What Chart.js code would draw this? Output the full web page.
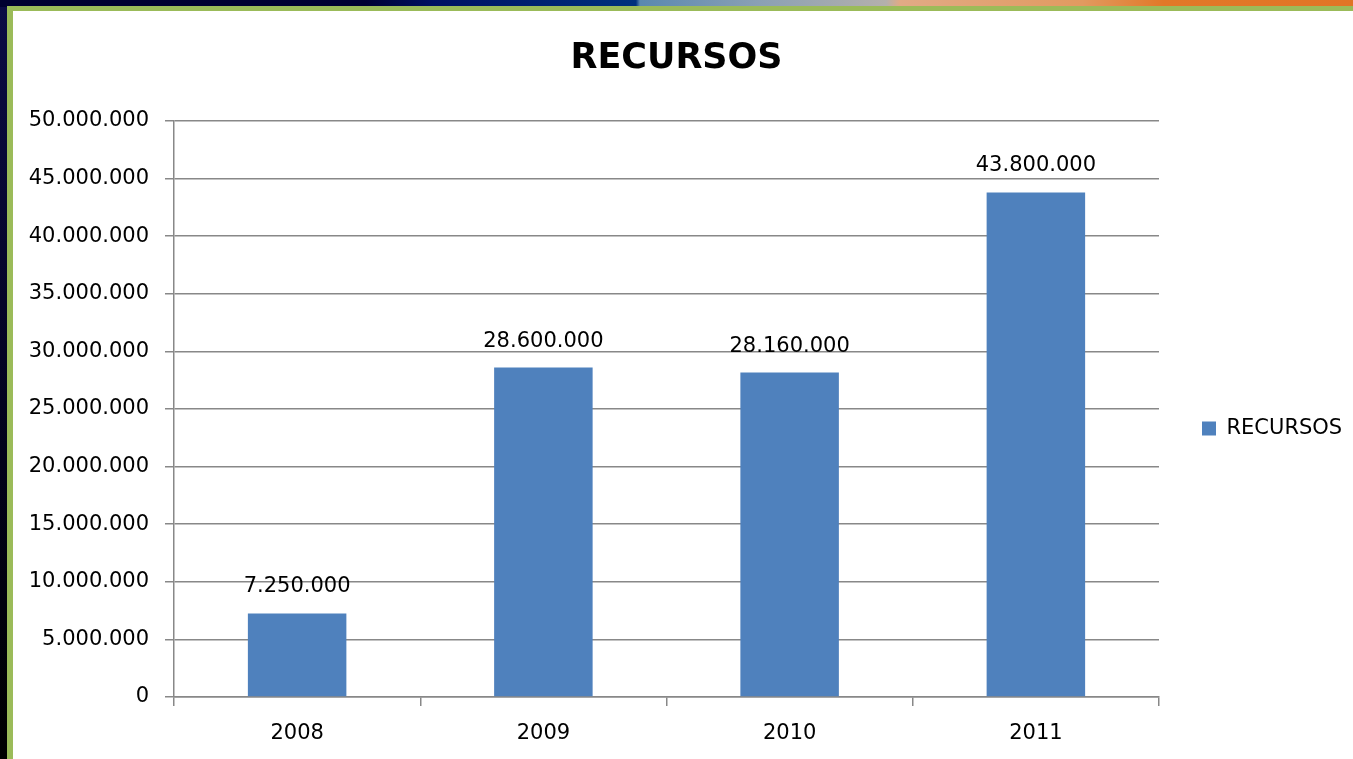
<!DOCTYPE html>
<html>
<head>
<meta charset="utf-8">
<script src="https://cdn.jsdelivr.net/npm/chart.js@4/dist/chart.umd.min.js"></script>
<style>
  html, body { margin: 0; padding: 0; }
  body { width: 1353px; height: 759px; overflow: hidden; position: relative;
         background: linear-gradient(to bottom, #0b0b45 0%, #02021a 60%, #000000 100%); }
  #topstrip { position: absolute; left: 0; top: 0; width: 1353px; height: 7px;
    background: linear-gradient(to right, #000030 0%, #000033 27%, #001062 32%, #00307e 47%, #5a88b0 47.3%, #8aa0b4 56%, #b4b0ac 65.5%, #e0aa86 66.5%, #e09a60 80%, #e07828 86%, #e07426 100%); }
  #frame { position: absolute; left: 7px; top: 6px; width: 1360px; height: 770px; background: #9bbb59; }
  #inner { position: absolute; left: 13px; top: 11px; width: 1360px; height: 770px; background: #ffffff; }
  #c { position: absolute; left: 0; top: 0; }
</style>
</head>
<body>
<div id="topstrip"></div>
<div id="frame"></div>
<div id="inner"></div>
<canvas id="c" width="1353" height="759"></canvas>
<script>
const categories = ['2008', '2009', '2010', '2011'];
const recursos = [7250000, 28600000, 28160000, 43800000];
const seriesName = 'RECURSOS';
const chartTitle = 'RECURSOS';

function fmt(v) {
  return String(Math.round(v)).replace(/\B(?=(\d{3})+(?!\d))/g, '.');
}

Chart.defaults.font.family = "'DejaVu Sans', sans-serif";
Chart.defaults.color = '#000000';

const legendPlace = {
  id: 'legendPlace',
  afterInit(chart) {
    const lg = chart.legend;
    if (!lg) return;
    const orig = lg.fit.bind(lg);
    lg.fit = function () { orig(); this.width = 1353 - 1159; };
  },
  afterLayout(chart) {
    const lg = chart.legend;
    if (!lg) return;
    lg.top += 49;
    lg.bottom += 49;
  }
};

const dataLabels = {
  id: 'dataLabels',
  afterDatasetsDraw(chart) {
    const ctx = chart.ctx;
    const meta = chart.getDatasetMeta(0);
    ctx.save();
    ctx.font = "21px 'DejaVu Sans'";
    ctx.fillStyle = '#000';
    ctx.textAlign = 'center';
    ctx.textBaseline = 'alphabetic';
    meta.data.forEach((bar, i) => {
      ctx.fillText(fmt(chart.data.datasets[0].data[i]), bar.x, bar.y - 21);
    });
    ctx.restore();
  }
};

new Chart(document.getElementById('c'), {
  type: 'bar',
  data: {
    labels: categories,
    datasets: [{
      label: seriesName,
      data: recursos,
      backgroundColor: '#4f81bd',
      borderWidth: 0,
      barPercentage: 0.4,
      categoryPercentage: 1.0
    }]
  },
  plugins: [legendPlace, dataLabels],
  options: {
    responsive: false,
    animation: false,
    devicePixelRatio: 1,
    layout: { padding: { left: 0, right: 0, top: 0, bottom: 0 } },
    plugins: {
      title: {
        display: true,
        text: chartTitle,
        font: { size: 35, weight: 'bold' },
        color: '#000',
        padding: { top: 38, bottom: 41 }
      },
      legend: {
        display: true,
        position: 'right',
        labels: {
          boxWidth: 14,
          boxHeight: 14,
          padding: 43,
          font: { size: 21 },
          color: '#000'
        }
      },
      tooltip: { enabled: false }
    },
    scales: {
      x: {
        offset: true,
        grid: { display: true, drawOnChartArea: false, drawTicks: true, tickLength: 9, lineWidth: 1.5, color: '#888888', offset: true },
        border: { color: '#888888', width: 1.5 },
        ticks: { font: { size: 21 }, color: '#000', padding: 15 },
        afterFit(scale) { scale.height = 62; }
      },
      y: {
        min: 0,
        max: 50000000,
        grid: { color: '#888888', lineWidth: 1.5, tickLength: 9 },
        border: { color: '#888888', width: 1.5 },
        ticks: { stepSize: 5000000, font: { size: 21 }, color: '#000', padding: 16, callback: (v) => fmt(v) },
        afterFit(scale) { scale.width = 174; }
      }
    }
  }
});
</script>
</body>
</html>
